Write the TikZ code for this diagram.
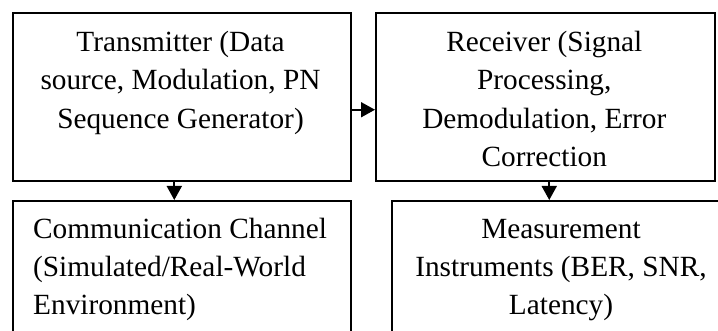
\documentclass[tikz,border=0pt]{standalone}
\usepackage{fontspec}
\setmainfont{Liberation Serif}
\usetikzlibrary{arrows.meta}

\begin{document}
\begin{tikzpicture}[x=1pt, y=-1pt,
        blk/.style={draw, line width=2pt, rectangle, inner sep=0pt, anchor=north west},
        lbl/.style={inner sep=0pt, anchor=base, font=\fontsize{29.3}{38.3}\selectfont},
        arr/.style={line width=1.8pt, -{Triangle[length=14pt, width=15pt]}}]
    \useasboundingbox (0, 0) rectangle (718, 331);
    \clip (0, 0) rectangle (718, 331);

    \node (tx) at (11.5, 12.5) [blk, minimum width=338pt, minimum height=167.5pt] {};
    \node (rx) at (375, 12.5) [blk, minimum width=338.5pt, minimum height=167.5pt] {};
    \node (ch) at (11.5, 200) [blk, minimum width=338pt, minimum height=170pt] {};
    \node (ms) at (391, 200) [blk, minimum width=340pt, minimum height=170pt] {};

    % base anchor sits on the last line
    \node (txlbl) at (180.5, 128.3) [lbl, align=center] {Transmitter (Data\\source, Modulation, PN\\Sequence Generator)};
    \node (rxlbl) at (544.3, 166.6) [lbl, align=center] {Receiver (Signal\\Processing,\\Demodulation, Error\\Correction};
    \node (chlbl) at (33, 315) [lbl, anchor=base west, align=left] {Communication Channel\\(Simulated/Real-World\\Environment)};
    \node (mslbl) at (561, 315) [lbl, align=center] {Measurement\\Instruments (BER, SNR,\\Latency)};

    \draw[arr] ([yshift=-12.5pt]tx.east) -- ([yshift=-12.5pt]rx.west);
    \draw[arr] ([xshift=-7.2pt]tx.south) -- ([xshift=-7.2pt]tx.south |- ch.north);
    \draw[arr] ([xshift=4pt]rx.south) -- ([xshift=4pt]rx.south |- ms.north);
\end{tikzpicture}
\end{document}
